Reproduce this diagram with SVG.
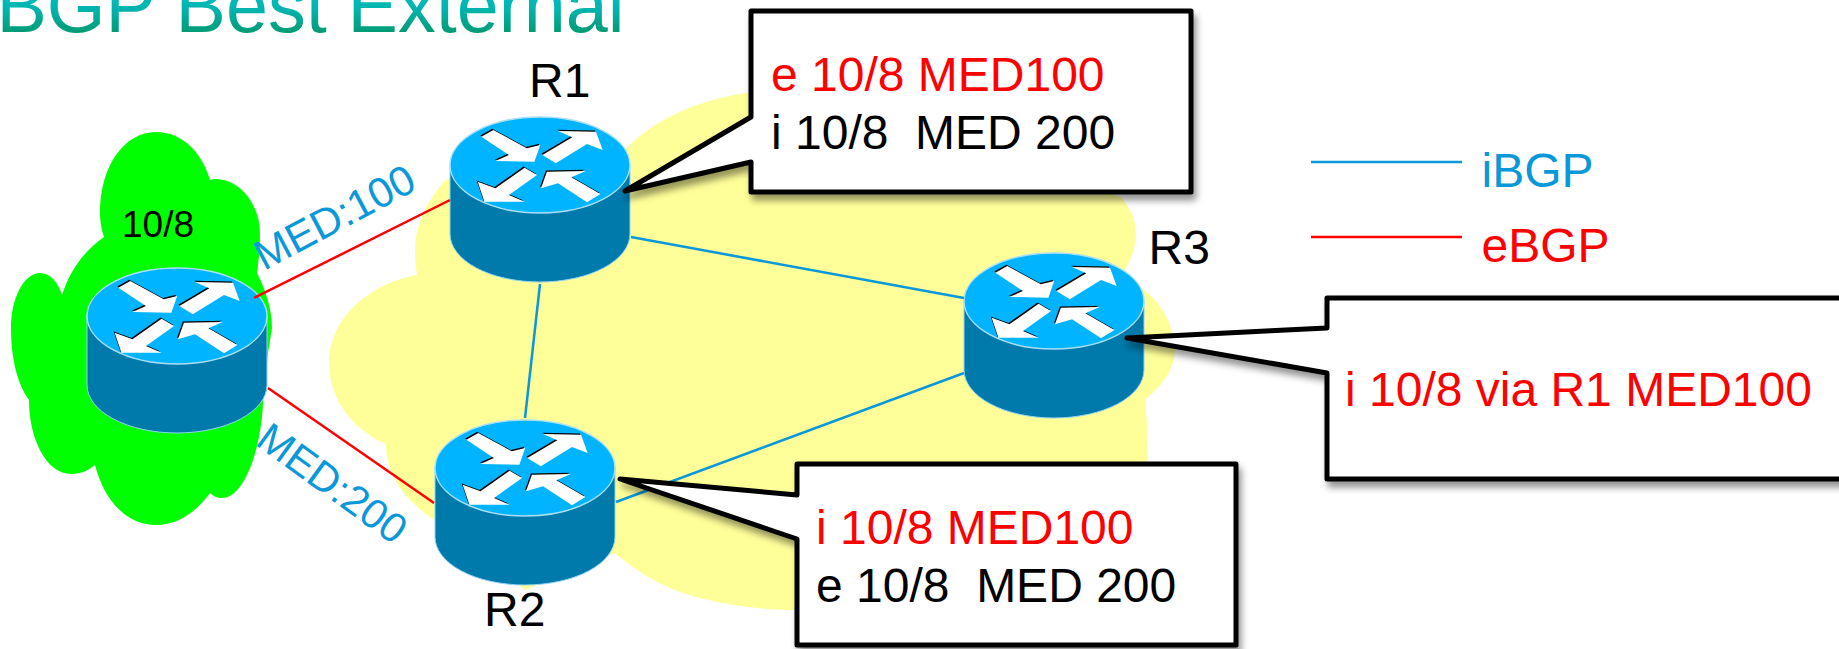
<svg xmlns="http://www.w3.org/2000/svg" width="1839" height="649" viewBox="0 0 1839 649">
<style>
text{font-family:"Liberation Sans",Arial,sans-serif;white-space:pre}
.t{font-size:48px}
.red{fill:#ff0000}
.blk{fill:#000000}
.blu{fill:#0a98d8}
.ib{stroke:#0a98d8;stroke-width:2.5;fill:none}
.eb{stroke:#ff0000;stroke-width:2.5;fill:none}
.call{fill:#ffffff;stroke:#000000;stroke-width:5;stroke-linejoin:round;filter:url(#sh)}
.side{fill:#0079ab;stroke:#8fd4f2;stroke-width:1}
.top{fill:#00b4ff;stroke:#a8e0f7;stroke-width:1.5}
.aw{fill:#ffffff}
.ak{fill:#000000}
</style>
<defs>
<linearGradient id="tg" gradientUnits="userSpaceOnUse" x1="0" y1="-25" x2="0" y2="33">
<stop offset="0" stop-color="#00c8d8"/><stop offset="0.6" stop-color="#00b4ac"/><stop offset="1" stop-color="#009a72"/>
</linearGradient>
<filter id="sh" x="-10%" y="-10%" width="125%" height="130%">
<feDropShadow dx="3" dy="6" stdDeviation="3.5" flood-color="#000000" flood-opacity="0.42"/>
</filter>
<g id="arrows">
<polygon id="a1" points="-58.7,-28.3 -46.7,-35 -13.2,-16.7 0.2,-20 -5.6,-3.3 -44.5,-4 -31.1,-10"/>
<polygon id="a2" points="2.4,-10 15.8,-1.7 47,-21 62.7,-15 56,-33.3 18,-34 32.3,-27.7"/>
<polygon id="a3" points="-15.4,2.7 -3,10 -31,30 -15.4,36.7 -55.6,36.7 -62.3,16.7 -44.5,23.3"/>
<polygon id="a4" points="60.4,29 47,37.3 18,18.3 1,23.3 6.9,6.7 45.7,6 31.4,12.3"/>
</g>
<g id="router">
<path class="side" d="M-90 0V69A90 48 0 0 0 90 69V0Z"/>
<ellipse class="top" cx="0" cy="0" rx="90" ry="48"/>
<use href="#arrows" class="ak" x="-1" y="-1.3"/>
<use href="#arrows" class="aw"/>
</g>
</defs>

<text x="-3.5" y="32" font-size="75.5" fill="url(#tg)">BGP Best External</text>

<path id="yellow-cloud" fill="#ffff99" d="M445 180C428 200 415 225 415 250C415 260 416 268 417 275C370 283 329 318 329 363C329 398 352 430 386 444C386 476 405 500 434 520L525 590L615 553C640 575 668 590 700 598C732 606 765 610 796 610L1147 470C1148 456 1148 445 1147 433C1147 420 1146 410 1145 399C1165 385 1176 365 1175 347C1174 325 1160 300 1140 287C1135 282 1130 276 1125 270C1132 258 1136 245 1136 233C1136 220 1130 208 1121 197L751 92C718 97 690 105 660 122C645 131 634 140 625 150Z"/>

<path id="green-cloud" fill="#00ff00" d="M104 237C100 225 100 215 100 213C100 165 125 132 156 132C182 132 202 152 210 180C212 179 214 179 216 179C240 179 260 205 260 233C260 247 259 260 257 273C266 290 272 310 272 328L268 353L263 403C261 450 244 498 222 498C217 498 213 496 210 493C196 512 178 525 156 525C126 525 104 500 95 465C88 471 80 474 71 474C47 474 29 440 29 400C18 385 11 360 11 328C11 298 24 273 40 273C50 273 58 282 62 295C70 270 85 250 104 237Z"/>

<text id="t-10-8" class="blk" x="122" y="237" font-size="37">10/8</text>

<g id="router-left"><use href="#router" x="177" y="316"/></g>
<g id="router-r1"><use href="#router" x="540" y="165"/><text class="t blk" x="529" y="97">R1</text></g>
<g id="router-r2"><use href="#router" x="525" y="468"/><text class="t blk" x="484" y="626">R2</text></g>
<g id="router-r3"><use href="#router" x="1054" y="301"/><text class="t blk" x="1148.5" y="264">R3</text></g>

<g id="connectors">
<line class="eb" x1="254" y1="298" x2="450" y2="200"/>
<line class="eb" x1="268" y1="388" x2="434" y2="503"/>
<line class="ib" x1="631" y1="237" x2="964" y2="298"/>
<line class="ib" x1="540" y1="284" x2="525" y2="418"/>
<line class="ib" x1="616" y1="502" x2="964" y2="373"/>
<line class="ib" x1="1311" y1="162" x2="1462" y2="162"/>
<line class="eb" x1="1311" y1="237" x2="1462" y2="237"/>
</g>

<text id="med100" class="blu" font-size="42" transform="translate(264 271) rotate(-28)">MED:100</text>
<text id="med200" class="blu" font-size="41.5" transform="translate(254 444) rotate(36)">MED:200</text>

<g id="callout-r1">
<polygon class="call" points="751,11 1191,11 1191,192 751,192 751,162 625,191 751,117"/>
<text class="t red" x="771" y="91">e 10/8 MED100</text>
<text class="t blk" x="771" y="149">i 10/8  MED 200</text>
</g>
<g id="callout-r2">
<polygon class="call" points="797,464 1236,464 1236,645 797,645 797,539 620,479 797,495"/>
<text class="t red" x="816" y="544">i 10/8 MED100</text>
<text class="t blk" x="816" y="602">e 10/8  MED 200</text>
</g>
<g id="callout-r3">
<polygon class="call" points="1327,298 1850,298 1850,479 1327,479 1327,373 1127,338 1327,328"/>
<text class="t red" x="1345" y="406">i 10/8 via R1 MED100</text>
</g>

<g id="legend">
<text class="t blu" x="1481.5" y="187">iBGP</text>
<text class="t red" x="1481.5" y="262">eBGP</text>
</g>
</svg>
